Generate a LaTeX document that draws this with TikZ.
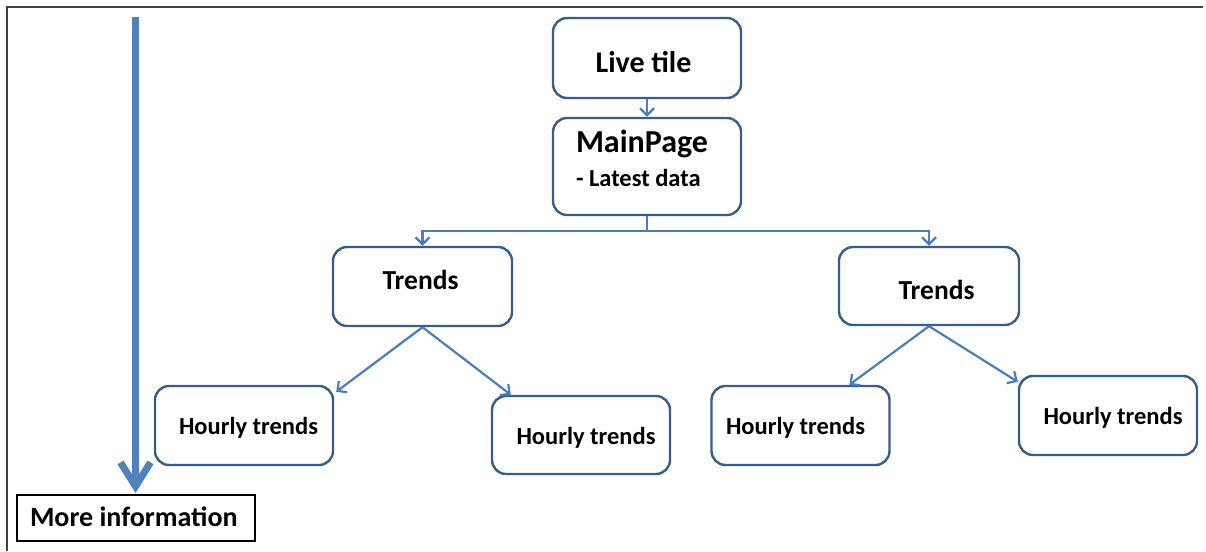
\documentclass[tikz,border=0pt]{standalone}
\usepackage{fontspec}
\setmainfont{Carlito}
\usetikzlibrary{arrows.meta,calc}
\definecolor{boxblue}{HTML}{385D8A}
\definecolor{arrblue}{HTML}{4A7EBB}
\definecolor{bigblue}{HTML}{4F81BD}
\definecolor{framegray}{HTML}{404040}
\newcommand\cput[3]{\makebox[0pt]{\hspace*{#1}\hspace*{#1}\raisebox{#2}[0pt][0pt]{#3}}}
\newcommand\lput[3]{\makebox[0pt][l]{\hspace*{#1}\raisebox{#2}[0pt][0pt]{#3}}}
\newcommand\fs[1]{\fontsize{#1}{#1}\selectfont}
\begin{document}
\begin{tikzpicture}[x=1pt,y=-1pt,
  box/.style={draw=boxblue, line width=2.4pt, rounded corners=14pt, fill=white,
    inner sep=0pt, minimum width=178pt, minimum height=79pt, font=\bfseries},
  conn/.style={draw=arrblue, line width=2.2pt, -{Straight Barb[length=7pt,width=14pt]}},
  bus/.style={draw=arrblue, line width=2.2pt}
]
\useasboundingbox (0,0) rectangle (1206,551);
\draw[framegray, line width=2pt] (7,551) -- (7,7) -- (1203,7);

\node[box, minimum width=188pt, minimum height=80pt] (live) at (647,58)
  {\cput{-3.5pt}{-15pt}{\fs{30}Live tile}};
\node[box, minimum width=188pt, minimum height=97pt] (main) at (647,166.5)
  {\makebox[0pt][l]{\hspace*{-71pt}\rlap{\raisebox{14.5pt}[0pt][0pt]{\fs{32}MainPage}}\rlap{\raisebox{-19.5pt}[0pt][0pt]{\fs{24.5}- Latest data}}}};
\node[box, minimum width=179pt] (tl) at (422.5,286.5) {\cput{-2pt}{-2.5pt}{\fs{27.5}Trends}};
\node[box, minimum width=180pt, minimum height=78pt] (tr) at (929,286) {\cput{7.5pt}{-13pt}{\fs{27.5}Trends}};
\node[box] (h1) at (244,425.5) {\cput{4.5pt}{-9pt}{\fs{24.5}Hourly trends}};
\node[box, minimum height=78pt] (h2) at (581,435) {\cput{5pt}{-9pt}{\fs{24.5}Hourly trends}};
\node[box] (h3) at (800.5,425.5) {\cput{-5pt}{-9pt}{\fs{24.5}Hourly trends}};
\node[box] (h4) at (1108,415.5) {\cput{5pt}{-9pt}{\fs{24.5}Hourly trends}};
\node[draw=black, line width=1.5pt, inner sep=0pt, minimum width=238pt, minimum height=46pt,
  font=\bfseries] (more) at (136,518) {\lput{-106pt}{-8pt}{\fs{28}More information}};

\coordinate (top) at (135.5,17);
\coordinate (tip) at (135.5,493);
\draw[bigblue, line width=7pt, -{Straight Barb[length=24pt,width=30pt]}] (top) -- (tip);

\draw[conn] (live.south) -- (main.north);
\coordinate (bus) at (647,231);
\draw[bus] (main.south) -- (bus);
\draw[conn] (bus) -| (tl.north);
\draw[conn] (bus) -| (tr.north);
\draw[conn] (tl.south) -- ($(h1.north east)+(2,7)$);
\draw[conn] (tl.south) -- ($(h2.north west)+(20,0)$);
\draw[conn] (tr.south) -- ($(h3.north west)+(139,0)$);
\draw[conn] (tr.south) -- ($(h4.north west)+(0,7)$);
\end{tikzpicture}
\end{document}
